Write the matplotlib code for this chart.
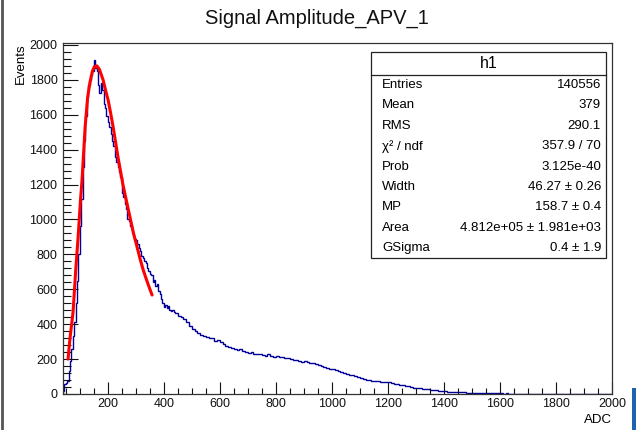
import numpy as np
import matplotlib
matplotlib.use("Agg")
import matplotlib.pyplot as plt
from matplotlib.patches import Rectangle
from matplotlib.lines import Line2D
from matplotlib.ticker import MultipleLocator

plt.rcParams["font.family"] = ["Liberation Sans", "DejaVu Sans"]

# histogram: 5 ADC bins from 40 to 440, 10 ADC bins from 440 to 2000
bin_edges = np.concatenate([np.arange(40, 440, 5), np.arange(440, 2001, 10)])
counts_fine = [
    20, 55, 65, 75, 130, 190, 260, 330, 410, 520,
    650, 800, 960, 1120, 1300, 1450, 1590, 1700, 1770, 1800,
    1830, 1850, 1912, 1870, 1850, 1770, 1725, 1780, 1740, 1660,
    1640, 1590, 1560, 1530, 1490, 1450, 1420, 1360, 1330, 1300,
    1270, 1245, 1150, 1130, 1090, 1060, 1000, 990, 960, 940,
    910, 890, 880, 860, 835, 820, 790, 780, 760, 750,
    720, 705, 690, 680, 640, 655, 620, 630, 590, 575,
    545, 520, 500, 512, 495, 505, 482, 476, 480, 470,
]
counts_coarse = [
    462, 448, 440, 428, 410, 392, 372, 360, 352, 338,
    330, 326, 318, 322, 306, 312, 296, 285, 276, 268,
    262, 258, 252, 255, 244, 240, 236, 242, 232, 228,
    232, 224, 220, 227, 216, 214, 219, 210, 212, 204,
    208, 200, 197, 194, 190, 186, 188, 181, 178, 180,
    172, 168, 162, 157, 150, 146, 141, 136, 130, 127,
    121, 116, 110, 106, 101, 96, 91, 86, 83, 80,
    77, 75, 72, 71, 69, 70, 66, 62, 58, 56,
    53, 49, 46, 43, 41, 37, 35, 33, 30, 28,
    26, 24, 22, 21, 19, 17, 16, 14, 13, 12,
    11, 10, 10, 9, 8, 8, 7, 7, 6, 6,
    5, 5, 4, 4, 3, 3, 3, 2, 3, 2,
    2, 2, 1, 2, 1, 1, 2, 1, 1, 1,
    1, 0, 1, 1, 0, 1, 0, 0, 1, 0,
    0, 1, 0, 0, 0, 1, 0, 0, 0, 0,
    0, 0, 1, 0, 0, 0,
]
counts = counts_fine + counts_coarse

# fitted curve
fit_x = [58, 65, 76, 85, 94, 102, 108, 119, 128, 136, 145, 152, 161, 170,
         183, 192, 201, 210, 219, 228, 236, 245, 254, 266, 279, 291, 304,
         315, 326, 337, 348, 358]
fit_y = [200, 320, 470, 700, 900, 1100, 1228, 1530, 1700, 1783, 1850, 1875,
         1880, 1860, 1800, 1740, 1685, 1610, 1530, 1440, 1360, 1280, 1200,
         1110, 1014, 925, 845, 775, 713, 660, 610, 567]

stat_names = ["Entries", "Mean", "RMS", "\u03c7\u00b2 / ndf", "Prob", "Width",
              "MP", "Area", "GSigma"]
stat_values = ["140556", "379", "290.1", "357.9 / 70", "3.125e-40",
               "46.27 \u00b1 0.26", "158.7 \u00b1 0.4",
               "4.812e+05 \u00b1 1.981e+03", "0.4 \u00b1 1.9"]

W, H = 636, 430
fig = plt.figure(figsize=(W / 100, H / 100), dpi=100)


def fx(px):
    return px / W


def fy(py):
    return 1 - py / H


ax = fig.add_axes([fx(63), fy(394), fx(612) - fx(63), fy(43) - fy(394)])
ax.stairs(counts, bin_edges, color="#000099", linewidth=1.0)
ax.plot(fit_x, fit_y, color="red", linewidth=2.2, solid_capstyle="round")

ax.set_xlim(40, 2000)
ax.set_ylim(0, 2011)
ax.xaxis.set_major_locator(MultipleLocator(200))
ax.xaxis.set_minor_locator(MultipleLocator(50))
ax.yaxis.set_major_locator(MultipleLocator(200))
ax.yaxis.set_minor_locator(MultipleLocator(40))
ax.tick_params(axis="x", which="major", direction="in", length=8.6, width=0.8,
               labelsize=9, pad=3, colors="#111111")
ax.tick_params(axis="x", which="minor", direction="in", length=4.3, width=0.8,
               colors="#111111")
ax.tick_params(axis="y", which="major", direction="in", length=10.8, width=0.8,
               labelsize=9, pad=4, colors="#111111")
ax.tick_params(axis="y", which="minor", direction="in", length=5.8, width=0.8,
               colors="#111111")
ax.set_xticks([t for t in range(200, 2001, 200)])
ax.set_yticks([t for t in range(0, 2001, 200)])
for s in ax.spines.values():
    s.set_color("#333333")
    s.set_linewidth(0.9)

fig.text(fx(612), fy(420), "ADC", ha="right", va="center", fontsize=9.5)
fig.text(fx(21), fy(43), "Events", ha="center", va="top", rotation=90,
         fontsize=9.5)
fig.text(fx(317), fy(18), "Signal Amplitude_APV_1", ha="center", va="center",
         fontsize=14.5, color="#111111")

# stats box
bx0, bx1, by0, by1 = 371, 606, 52, 258
fig.add_artist(Rectangle((fx(bx0), fy(by1)), fx(bx1) - fx(bx0), fy(by0) - fy(by1),
                         transform=fig.transFigure, facecolor="white",
                         edgecolor="#222222", linewidth=0.9, zorder=5))
fig.add_artist(Line2D([fx(bx0), fx(bx1)], [fy(75), fy(75)],
                      transform=fig.transFigure, color="#222222",
                      linewidth=0.9, zorder=6))
fig.text(fx((bx0 + bx1) / 2), fy(63.5), "h1", ha="center", va="center",
         fontsize=11.5, zorder=7)
row_h = (by1 - 75) / len(stat_names)
for i, (name, val) in enumerate(zip(stat_names, stat_values)):
    yc = 75 + (i + 0.5) * row_h
    fig.text(fx(382), fy(yc), name, ha="left", va="center", fontsize=9.5,
             zorder=7)
    fig.text(fx(601), fy(yc), val, ha="right", va="center", fontsize=9.5,
             zorder=7)

# screenshot edges
fig.add_artist(Line2D([fx(1.5), fx(1.5)], [0, 1], transform=fig.transFigure,
                      color="#555555", linewidth=2))
fig.add_artist(Rectangle((fx(632), 0), fx(4), fy(388), transform=fig.transFigure,
                         facecolor="#1e63b0", edgecolor="none"))

fig.savefig("out.png", dpi=100)
